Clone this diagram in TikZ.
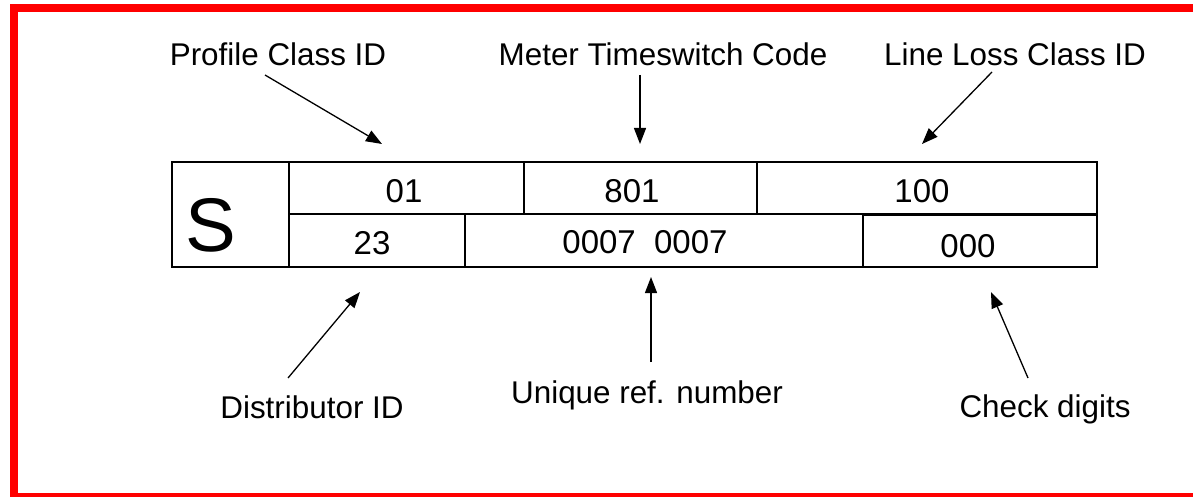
\documentclass[tikz,border=0pt]{standalone}
\usepackage{fontspec}
\setmainfont{Liberation Sans}
\usetikzlibrary{arrows.meta}
\begin{document}
\begin{tikzpicture}[x=0.5pt,y=-0.5pt,
  lbl/.style={anchor=base,inner sep=0pt,font=\fontsize{15.7}{18}\selectfont},
  num/.style={anchor=base,inner sep=0pt,font=\fontsize{16.5}{19}\selectfont},
  bigs/.style={anchor=base,inner sep=0pt,font=\fontsize{38}{40}\selectfont},
  cellbox/.style={draw=black,line width=1pt},
  arr/.style={line width=0.65pt,-{Triangle[length=8pt,width=6pt]}}]
\useasboundingbox (0,0) rectangle (1193,497);
\fill[white] (0,0) rectangle (1193,497);
\begin{scope}
  \clip (0,0) rectangle (1193,497);
  \draw[red,line width=4pt] (1193,8) -- (14,8) -- (14,497) -- (1193,497);
\end{scope}
% cells
\draw[cellbox] (172,162) rectangle (289,267);
\draw[cellbox] (289,162) rectangle (524,214);
\draw[cellbox] (524,162) rectangle (757,214);
\draw[cellbox] (757,162) rectangle (1097,214);
\draw[cellbox] (289,214) rectangle (465,267);
\draw[cellbox] (465,214) rectangle (863,267);
\draw[cellbox] (863,215.5) rectangle (1097,267);
% cell texts
\node[bigs] (s) at (211,251) {S};
\node[num] (pc) at (404,203) {01};
\node[num] (mtc) at (632,203) {801};
\node[num] (llc) at (922,203) {100};
\node[num] (dist) at (372,255) {23};
\node[num] (uref) at (645,254) {0007\ \ 0007};
\node[num] (chk) at (968,257) {000};
% labels
\node[lbl] (lpc) at (278,66) {Profile Class ID};
\node[lbl] (lmtc) at (663,66) {Meter Timeswitch Code};
\node[lbl] (lllc) at (1015,66) {Line Loss Class ID};
\node[lbl] (ldist) at (312,418) {Distributor ID};
\node[lbl] (luref) at (647,403) {Unique ref. number};
\node[lbl] (lchk) at (1045,417) {Check digits};
% arrow ends
\coordinate (a1s) at (265,75);  \coordinate (a1e) at (382,144);
\coordinate (a2s) at (640,75);  \coordinate (a2e) at (640,144);
\coordinate (a3s) at (992,72);  \coordinate (a3e) at (922,144);
\coordinate (a4s) at (288,378); \coordinate (a4e) at (360,292);
\coordinate (a5s) at (651,362); \coordinate (a5e) at (651,277);
\coordinate (a6s) at (1028,378); \coordinate (a6e) at (991,292);
\draw[arr] (a1s) -- (a1e);
\draw[arr] (a2s) -- (a2e);
\draw[arr] (a3s) -- (a3e);
\draw[arr] (a4s) -- (a4e);
\draw[arr] (a5s) -- (a5e);
\draw[arr] (a6s) -- (a6e);
\end{tikzpicture}
\end{document}
